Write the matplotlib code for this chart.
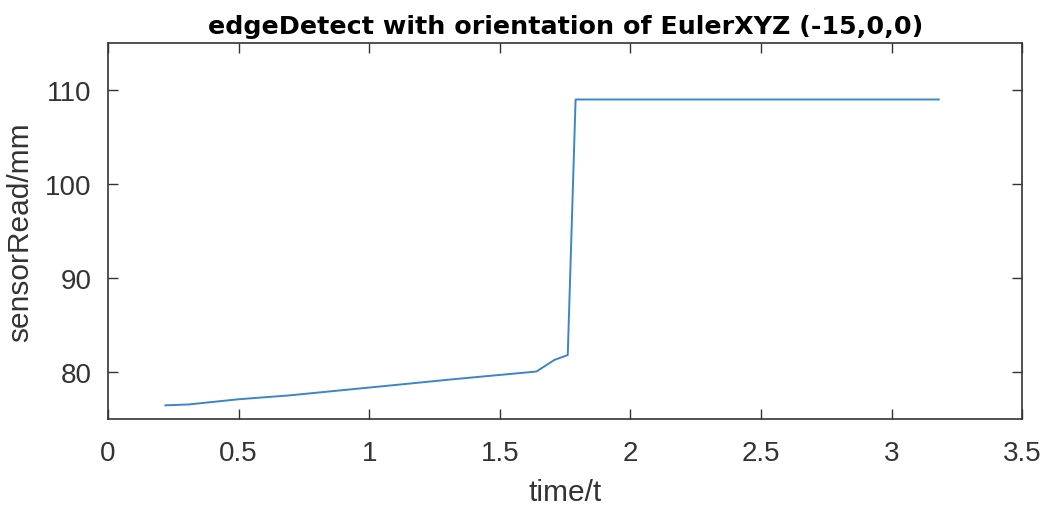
import matplotlib
matplotlib.use("Agg")
import matplotlib.pyplot as plt

# sensor readings
time_t = [0.22, 0.31, 0.50, 0.69, 1.13, 1.31, 1.64, 1.71, 1.76, 1.79, 3.18]
sensor_mm = [76.45, 76.55, 77.1, 77.5, 78.7, 79.2, 80.05, 81.3, 81.8, 109.0, 109.0]

x_ticks = [0, 0.5, 1, 1.5, 2, 2.5, 3, 3.5]
x_labels = ['0', '0.5', '1', '1.5', '2', '2.5', '3', '3.5']
y_ticks = [80, 90, 100, 110]

plt.rcParams['font.family'] = ['Liberation Sans', 'DejaVu Sans']
dark = '#333333'

fig = plt.figure(figsize=(10.45, 5.1), dpi=100)
ax = fig.add_axes([0.1033, 0.1765, 0.875, 0.737])

ax.plot(time_t, sensor_mm, color='#3a86c8', linewidth=1.4)

ax.set_xlim(0, 3.5)
ax.set_ylim(75, 115)
ax.set_xticks(x_ticks)
ax.set_xticklabels(x_labels)
ax.set_yticks(y_ticks)

ax.tick_params(axis='both', direction='in', top=True, right=True, length=7,
               width=1, colors=dark, labelsize=20)
ax.tick_params(axis='x', pad=15)
ax.tick_params(axis='y', pad=12)
for s in ax.spines.values():
    s.set_color(dark)
    s.set_linewidth(1.2)

ax.set_xlabel('time/t', fontsize=21.5, color=dark, labelpad=9)
ax.set_ylabel('sensorRead/mm', fontsize=21.5, color=dark, labelpad=8)
ax.set_title('edgeDetect with orientation of EulerXYZ (-15,0,0)',
             fontsize=18.3, fontweight='bold', color='black', pad=7,
             family=['DejaVu Sans'])

fig.savefig('out.png', dpi=100)
